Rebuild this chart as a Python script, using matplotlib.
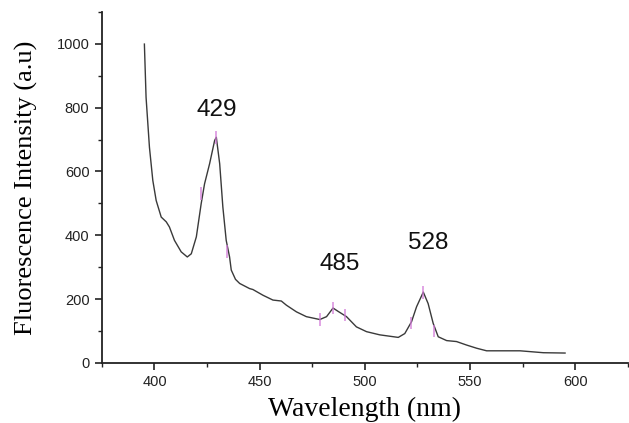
import matplotlib
matplotlib.use("Agg")
import matplotlib.pyplot as plt
from matplotlib.ticker import MultipleLocator

# Spectrum
wavelength = [395.2, 396.0, 397.6, 399.2, 400.8, 403.2, 405.6, 407.1, 409.5, 412.7,
              415.6, 417.5, 419.9, 422.2, 423.8, 426.2, 428.6, 429.4, 431.0, 432.5,
              434.1, 435.7, 436.5, 438.5, 440.5, 445.2, 446.8, 451.6, 456.3, 460.3,
              462.7, 467.5, 472.2, 478.6, 481.8, 484.9, 487.2, 491.3, 496.0, 500.8,
              507.1, 515.9, 519.0, 522.2, 524.6, 527.8, 530.1, 532.5, 534.9, 538.9,
              543.6, 548.4, 553.2, 557.9, 573.8, 584.9, 595.2]
intensity = [999, 832, 676, 572, 509, 457, 442, 426, 384, 348,
             332, 342, 395, 499, 561, 624, 697, 707, 624, 489,
             384, 332, 291, 262, 249, 233, 230, 212, 197, 194,
             181, 160, 145, 136, 145, 172, 162, 145, 113, 98,
             88, 80, 92, 129, 176, 222, 186, 124, 82, 70,
             67, 56, 46, 38, 38, 32, 31]

# Magenta marker points (error-bar ticks)
mark_x = [422.0, 429.4, 434.3, 478.6, 484.9, 490.5, 521.8, 527.8, 533.0]
mark_y = [530, 707, 350, 136, 172, 150, 125, 220, 100]

peak_labels = ["429", "485", "528"]
peak_x = [429.4, 488.1, 530.1]
peak_y = [794, 309, 377]

fig = plt.figure(figsize=(6.29, 4.23), dpi=100)
ax = fig.add_axes([0.162, 0.142, 0.836, 0.830])

ax.plot(wavelength, intensity, color="#3a3a3a", lw=1.0, solid_joinstyle="round")
ax.errorbar(mark_x, mark_y, yerr=20, fmt="none", ecolor="#d27ad8", elinewidth=1.2, alpha=0.8)

for lab, x, y in zip(peak_labels, peak_x, peak_y):
    ax.text(x, y, lab, ha="center", va="center", fontsize=17.5,
            family="Liberation Sans", color="#111111")

ax.set_xlim(375, 625)
ax.set_ylim(0, 1100)
ax.xaxis.set_major_locator(MultipleLocator(50))
ax.xaxis.set_minor_locator(MultipleLocator(25))
ax.yaxis.set_minor_locator(MultipleLocator(100))
ax.set_yticks([0, 200, 400, 600, 800, 1000])

for s in ["top", "right"]:
    ax.spines[s].set_visible(False)
for s in ["left", "bottom"]:
    ax.spines[s].set_linewidth(1.3)
    ax.spines[s].set_color("#222222")

ax.tick_params(which="major", direction="out", length=5, width=1.2, colors="#222222",
               labelsize=10.5, pad=4)
ax.tick_params(which="minor", direction="out", length=3, width=1.0, colors="#222222")
for lbl in ax.get_xticklabels() + ax.get_yticklabels():
    lbl.set_family("Liberation Sans")

ax.set_xlabel("Wavelength (nm)", family="Liberation Serif", fontsize=20, labelpad=5)
ax.set_ylabel("Fluorescence Intensity (a.u)", family="Liberation Serif", fontsize=19, labelpad=13)

fig.savefig("out.png", dpi=100)
